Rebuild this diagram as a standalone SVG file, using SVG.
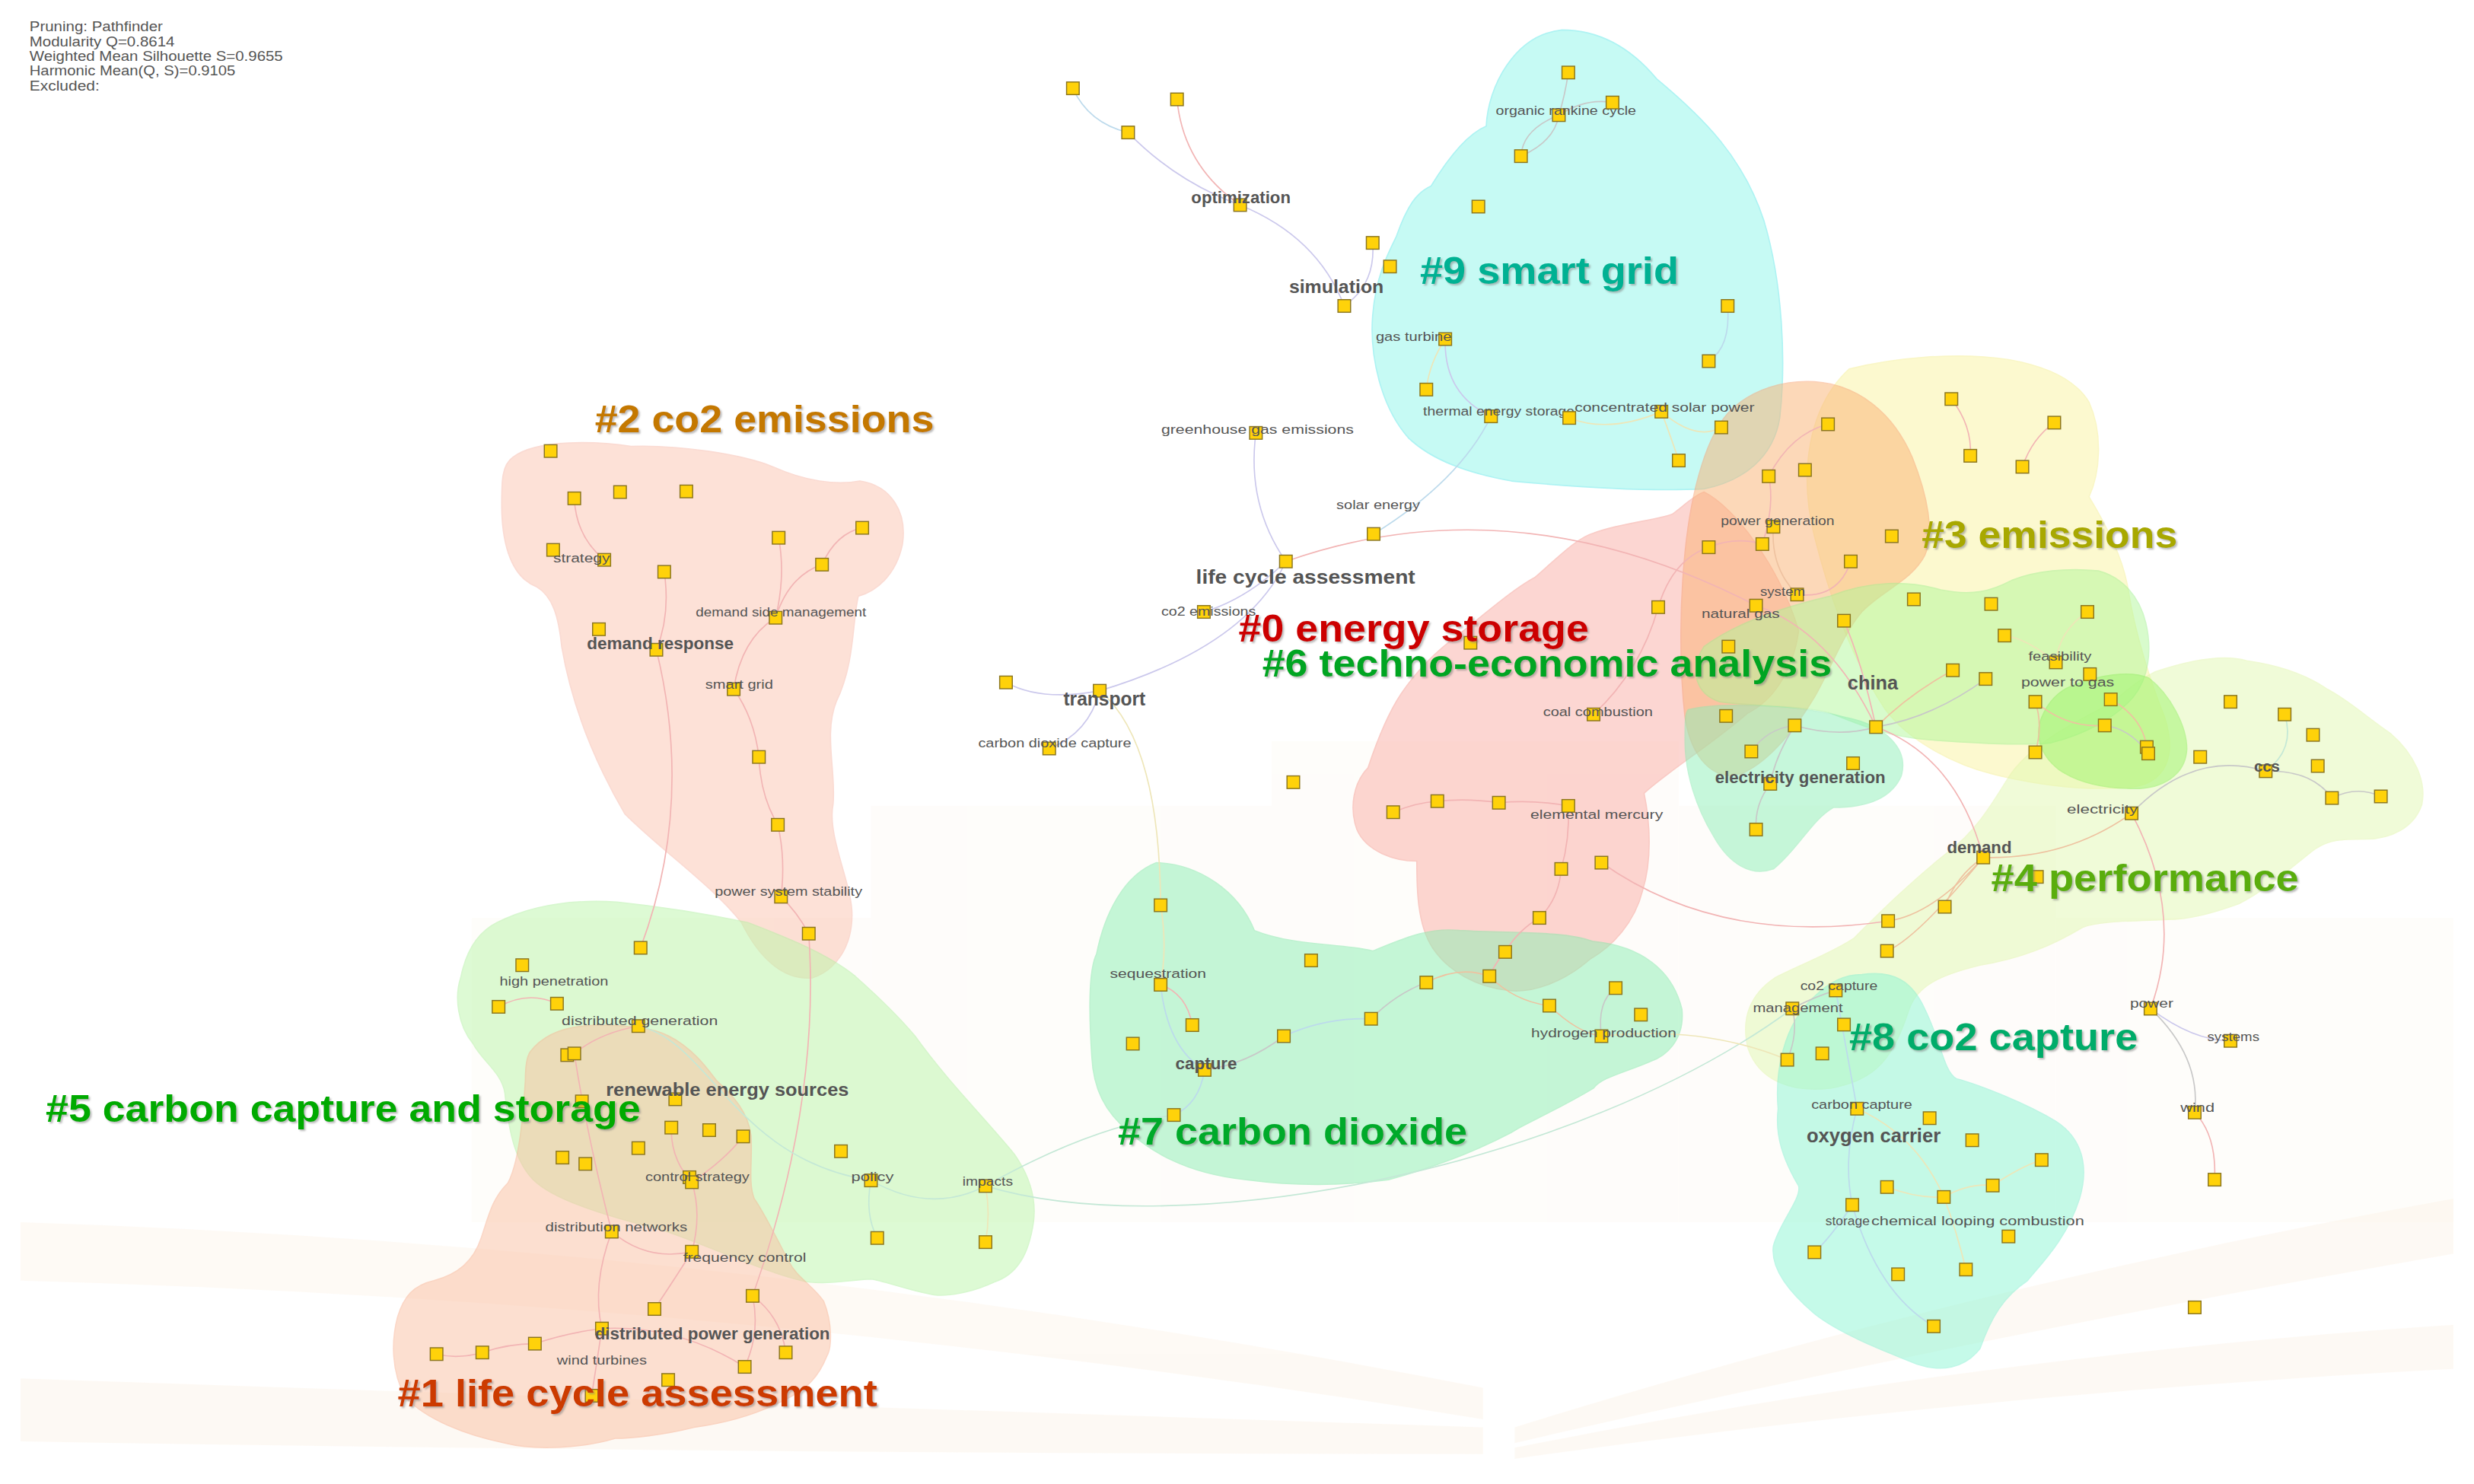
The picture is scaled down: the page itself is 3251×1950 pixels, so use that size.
<svg xmlns="http://www.w3.org/2000/svg" width="3251" height="1950" viewBox="0 0 3251 1950">
<defs>
<style>
.n{fill:#ffd20a;stroke:#8a7520;stroke-width:0.7}
.e{fill:none;stroke-width:0.8}
.ep{stroke:#f2b4b4}.eb{stroke:#bcdaec}.el{stroke:#cbc8ec}.ey{stroke:#eee6b8}.eg{stroke:#c8c8c8}.eo{stroke:#eec2a0}.et{stroke:#c4e8d6}
.lb{font-family:"Liberation Sans",Arial,sans-serif;font-size:8px;fill:#555}
.lbb{font-family:"Liberation Sans",Arial,sans-serif;font-weight:bold;fill:#555}
.cl{font-family:"Liberation Sans",Arial,sans-serif;font-weight:bold;font-size:24px;filter:url(#sh)}
.hd{font-family:"Liberation Sans",Arial,sans-serif;font-size:8.5px;fill:#555}
.h{stroke-width:0.8;opacity:0.5}
</style>
<rect id="sq" class="n" x="-4" y="-4" width="8" height="8"/>
<filter id="sh" x="-5%" y="-30%" width="115%" height="170%">
<feDropShadow dx="1" dy="1" stdDeviation="0.6" flood-color="#777" flood-opacity="0.5"/>
</filter>
</defs>
<rect width="3251" height="1950" fill="#ffffff"/>
<g transform="scale(2.0733,2.0723)">
<g id="background">
<g fill="#fbeedd" opacity="0.14">
<rect x="299" y="582" width="253" height="193"/>
<rect x="552" y="511" width="254" height="264"/>
<rect x="806" y="470" width="258" height="305"/>
<rect x="1064" y="511" width="239" height="264"/>
<rect x="1303" y="582" width="252" height="193"/>
</g>
<g fill="#fbeedd" opacity="0.3">
<path d="M13,775 Q480,790 940,880 L940,900 Q480,825 13,812 Z"/>
<path d="M13,874 Q480,890 940,905 L940,922 Q480,922 13,914 Z"/>
<path d="M960,905 Q1250,815 1555,760 L1555,795 Q1250,848 960,915 Z"/>
<path d="M960,918 Q1250,860 1555,840 L1555,868 Q1250,884 960,925 Z"/>
</g>
</g>
<g id="hulls">
<path id="h9" class="h" fill="#8ff7ea" stroke="#5fe8e8" d="M990,19 C1015,19 1035,32 1050,50 C1080,75 1105,100 1118,140 C1130,180 1132,230 1128,265 C1124,290 1105,305 1080,310 C1040,312 990,308 958,305 C930,300 908,292 893,278 C875,258 868,225 870,200 C872,175 880,160 885,150 C892,130 898,122 907,118 C918,100 930,85 942,80 C943,55 960,22 990,19 Z"/>
<path id="h2" class="h" fill="#fcc4b0" stroke="#f7b8a8" opacity="0.45" d="M325,290 C340,278 380,280 400,283 C430,282 470,288 490,296 C510,305 530,308 545,305 C565,308 575,325 572,345 C568,365 555,375 544,378 C540,395 542,420 530,445 C522,465 530,490 528,510 C524,530 540,560 540,580 C540,600 530,615 515,620 C495,622 480,605 470,585 C450,560 420,540 396,516 C375,480 362,445 356,410 C354,390 350,378 340,372 C322,365 318,340 318,320 C318,305 318,295 325,290 Z"/>
<path id="h3" class="h" fill="#fbf5a0" stroke="#f5ef90" d="M1172,234 C1200,227 1240,223 1273,228 C1296,232 1315,240 1324,255 C1333,275 1331,300 1324,315 C1336,335 1346,355 1349,375 C1353,400 1362,430 1372,455 C1380,480 1372,496 1352,499 C1322,502 1290,497 1268,492 C1240,486 1210,470 1195,450 C1175,420 1160,380 1150,340 C1140,300 1146,258 1172,234 Z"/>
<path id="h4" class="h" fill="#e2f9b2" stroke="#e0f5a8" d="M1366,426 C1390,418 1410,415 1424,419 C1445,422 1462,428 1475,437 C1490,445 1500,455 1515,465 C1530,478 1538,495 1535,510 C1530,525 1515,532 1500,532 C1485,532 1475,532 1465,540 C1450,552 1435,565 1419,573 C1400,580 1385,583 1374,583 C1350,584 1330,584 1320,588 C1300,600 1280,608 1255,612 C1230,618 1215,625 1210,640 C1200,670 1190,685 1160,690 C1135,693 1115,685 1108,665 C1103,645 1110,630 1125,620 C1140,612 1160,605 1175,595 C1190,580 1210,560 1235,540 C1255,525 1265,505 1275,490 C1290,470 1320,455 1340,445 C1350,435 1358,430 1366,426 Z"/>
<path id="h0" class="h" fill="#fbaea6" stroke="#f59a90" opacity="0.45" d="M1080,312 C1100,322 1128,360 1140,400 C1136,428 1122,445 1108,452 C1082,474 1056,490 1042,503 C1046,522 1047,546 1041,565 C1036,585 1022,600 1008,608 C992,622 972,630 956,628 C936,626 918,616 908,601 C898,586 898,562 898,546 C884,546 866,540 860,526 C855,512 858,496 867,487 C874,466 880,452 888,440 C900,422 914,410 925,402 C945,386 960,373 973,366 C990,351 1000,341 1010,338 C1030,331 1050,330 1060,326 C1068,320 1074,314 1080,312 Z"/>
<path id="hor" class="h" fill="#fbb274" stroke="#f8a070" opacity="0.45" d="M1097,260 C1112,246 1132,241 1150,242 C1178,244 1200,262 1212,290 C1222,315 1226,338 1220,352 C1212,368 1192,375 1180,388 C1168,402 1160,425 1150,442 C1138,462 1122,482 1105,490 C1086,497 1072,480 1068,455 C1064,420 1065,380 1068,350 C1072,310 1082,275 1097,260 Z"/>
<path id="h6" class="h" fill="#b2f89a" stroke="#a0f090" opacity="0.45" d="M1080,410 C1100,395 1130,385 1160,378 C1185,368 1210,368 1230,374 C1250,378 1262,375 1275,368 C1290,362 1310,360 1330,362 C1345,366 1356,378 1360,395 C1364,412 1362,430 1352,442 C1340,456 1320,466 1300,471 C1280,473 1250,471 1222,469 C1195,467 1175,458 1160,452 C1140,447 1110,448 1090,445 C1075,440 1070,425 1080,410 Z"/>
<path id="hB" class="h" fill="#9ef56c" stroke="#90ee60" opacity="0.45" d="M1313,435 C1330,428 1350,425 1362,430 C1375,440 1386,460 1386,475 C1385,492 1370,500 1353,500 C1335,500 1318,497 1305,488 C1292,478 1290,465 1294,455 C1298,445 1305,438 1313,435 Z"/>
<path id="hC" class="h" fill="#8ef0b8" stroke="#88eab0" d="M1070,450 C1090,445 1140,447 1170,455 C1195,460 1210,475 1205,492 C1198,508 1180,512 1162,512 C1148,520 1140,538 1124,551 C1110,556 1096,548 1086,530 C1075,512 1068,490 1068,470 C1068,458 1068,452 1070,450 Z"/>
<path id="h7" class="h" fill="#8cf0b4" stroke="#80e8a8" d="M733,547 C760,548 785,565 795,590 C820,600 850,598 870,603 C890,595 905,588 925,590 C960,592 990,590 1010,597 C1040,600 1060,615 1066,640 C1068,660 1055,670 1046,673 C1030,680 1015,683 1010,690 C985,705 965,713 958,718 C935,730 910,740 880,748 C850,752 820,752 790,748 C760,745 735,735 716,718 C700,705 693,690 692,670 C690,640 690,615 695,605 C700,580 712,555 733,547 Z"/>
<path id="h8" class="h" fill="#8cf7d4" stroke="#80f0d0" d="M1180,618 C1200,615 1212,622 1220,640 C1230,660 1232,680 1240,684 C1255,688 1285,700 1303,711 C1320,722 1324,740 1318,760 C1310,785 1295,800 1285,812 C1270,822 1262,835 1255,855 C1245,868 1230,870 1215,865 C1190,855 1165,845 1150,833 C1135,820 1122,805 1124,790 C1128,775 1142,760 1140,752 C1130,735 1125,720 1127,703 C1125,680 1130,650 1150,632 C1160,622 1170,618 1180,618 Z"/>
<path id="h5" class="h" fill="#bcf7aa" stroke="#b0f0a0" d="M315,585 C335,575 360,570 391,572 C420,575 450,580 474,585 C500,595 525,605 542,619 C560,635 570,645 580,657 C600,685 625,710 643,732 C652,745 657,760 655,775 C652,795 645,808 630,813 C615,820 600,822 592,821 C575,818 560,812 552,811 C535,812 520,815 508,812 C480,805 450,790 420,780 C380,770 350,760 338,748 C325,735 322,712 320,693 C318,680 305,672 300,662 C290,650 288,632 292,620 C296,600 305,590 315,585 Z"/>
<path id="h1" class="h" fill="#fbc0a2" stroke="#f8b090" opacity="0.45" d="M336,667 C345,655 360,650 380,650 C400,650 415,652 424,657 C440,665 450,680 454,685 C465,695 474,705 476,720 C477,735 474,750 478,760 C485,770 492,785 500,800 C505,810 515,815 522,825 C528,840 527,855 524,860 C518,875 510,880 504,884 C480,898 455,903 440,905 C420,910 400,912 390,912 C370,918 340,920 320,915 C295,910 270,900 257,886 C248,870 248,850 252,835 C256,822 262,815 275,812 C290,808 300,800 305,785 C310,770 312,760 322,750 C330,735 332,700 333,685 C333,675 334,670 336,667 Z"/>
</g>
<g id="connectors">
<path class="e eb" d="M680,56 Q690,78 715,84"/>
<path class="e el" d="M715,84 Q745,115 786,130"/>
<path class="e ep" d="M746,63 Q750,105 786,130"/>
<path class="e el" d="M786,130 Q835,150 852,194"/>
<path class="e el" d="M870,154 Q872,180 852,194"/>
<path class="e eg" d="M988,73 Q1005,62 1022,65"/>
<path class="e eg" d="M988,73 Q985,90 964,99"/>
<path class="e eg" d="M988,73 Q965,82 964,99"/>
<path class="e eg" d="M994,46 Q992,60 988,73"/>
<path class="e ey" d="M916,215 Q906,230 904,247"/>
<path class="e el" d="M916,215 Q915,250 945,264"/>
<path class="e eb" d="M945,264 Q925,305 870.6,338.6"/>
<path class="e ey" d="M994.6,265 Q1020,275 1053,261"/>
<path class="e ey" d="M1053,261 Q1075,280 1091,271"/>
<path class="e ey" d="M1053,261 Q1060,280 1064,292"/>
<path class="e eb" d="M1095,194 Q1097,220 1083,229"/>
<path class="e el" d="M796,274.5 Q790,320 815,356"/>
<path class="e ep" d="M815,356 Q960,305 1113,384"/>
<path class="e el" d="M815,356 Q790,410 697,438"/>
<path class="e el" d="M763,388 Q790,380 815,356"/>
<path class="e el" d="M637.6,432.7 Q660,445 697,438"/>
<path class="e el" d="M697,438 Q690,465 665,474.6"/>
<path class="e ey" d="M697,438 Q735,470 735.6,574"/>
<path class="e ep" d="M546.5,334.7 Q530,338 521,358"/>
<path class="e ep" d="M521,358 Q500,365 491.6,391.7"/>
<path class="e ep" d="M491.6,391.7 Q470,405 465,437"/>
<path class="e ep" d="M465,437 Q478,455 481,480"/>
<path class="e ep" d="M481,480 Q482,505 493,523"/>
<path class="e ep" d="M493,523 Q498,545 495,568.6"/>
<path class="e ep" d="M495,568.6 Q505,578 512.6,592"/>
<path class="e ep" d="M512.6,592 Q520,700 477,821.7"/>
<path class="e ep" d="M493.5,341 Q498,365 491.6,391.7"/>
<path class="e ep" d="M364,316 Q365,340 383,355"/>
<path class="e ep" d="M421,362.6 Q425,390 416,412"/>
<path class="e ep" d="M416,412 Q440,510 406,601"/>
<path class="e ep" d="M316,638.4 Q335,628 353,636.4"/>
<path class="e ep" d="M404.6,650.6 Q380,655 364,668"/>
<path class="e et" d="M404.6,650.6 C450,660 465,735 552,748.5"/>
<path class="e et" d="M552,748.5 Q590,770 624.6,752"/>
<path class="e et" d="M552,748.5 Q548,770 556,785"/>
<path class="e ey" d="M624.6,752 Q628,770 624.6,787.6"/>
<path class="e et" d="M624.6,752 C750,790 1000,740 1136,639.5"/>
<path class="e et" d="M624.6,752 Q690,715 744,707"/>
<path class="e ep" d="M438.5,749.6 Q460,735 471,720.6"/>
<path class="e ep" d="M438.5,749.6 Q425,735 425.5,715"/>
<path class="e ep" d="M438.5,749.6 Q445,770 438.5,793.7"/>
<path class="e ep" d="M438.5,793.7 Q425,815 414.8,830"/>
<path class="e ep" d="M387.7,781 Q410,800 438.5,793.7"/>
<path class="e ep" d="M387.7,781 Q375,815 381.5,842.4"/>
<path class="e ep" d="M477,821.7 Q482,845 472,866.7"/>
<path class="e ep" d="M477,821.7 Q495,835 498,857.6"/>
<path class="e ep" d="M381.5,842.4 Q360,845 339,852"/>
<path class="e ep" d="M339,852 Q322,852 305.7,857.6"/>
<path class="e ep" d="M305.7,857.6 Q290,862 276.7,858.6"/>
<path class="e ep" d="M381.5,842.4 Q378,865 375,885"/>
<path class="e ep" d="M381.5,842.4 Q430,840 472,866.7"/>
<path class="e ep" d="M364,668 Q372,720 387.7,781"/>
<path class="e ey" d="M735.6,574 Q740,600 735.6,624.4"/>
<path class="e ep" d="M735.6,624.4 Q752,630 755.7,650"/>
<path class="e eb" d="M735.6,624.4 Q740,665 763.5,678.4"/>
<path class="e eb" d="M763.5,678.4 Q760,700 744,707"/>
<path class="e eg" d="M763.5,678.4 Q790,675 813.7,657"/>
<path class="e eb" d="M813.7,657 Q840,645 869,646"/>
<path class="e eg" d="M869,646 Q885,630 904,623"/>
<path class="e eo" d="M904,623 Q925,612 944,619"/>
<path class="e eo" d="M944,619 Q960,635 982,637.7"/>
<path class="e eo" d="M982,637.7 Q1000,655 1015,657"/>
<path class="e eg" d="M1015,657 Q1012,635 1024,626.5"/>
<path class="e ep" d="M954,603.6 Q948,610 944,619"/>
<path class="e ey" d="M1015,657 Q1080,650 1132.8,672"/>
<path class="e eg" d="M1163.5,628 Q1150,632 1136,639.5"/>
<path class="e eg" d="M1136,639.5 Q1140,655 1132.8,672"/>
<path class="e eb" d="M1177,703 Q1168,735 1174,764"/>
<path class="e ey" d="M1177,703 Q1215,720 1232,759"/>
<path class="e ey" d="M1232,759 Q1248,750 1263,751.7"/>
<path class="e ey" d="M1263,751.7 Q1280,740 1294,735.5"/>
<path class="e ey" d="M1196,752.7 Q1215,760 1232,759"/>
<path class="e eb" d="M1174,764 Q1190,820 1225.6,841"/>
<path class="e eb" d="M1174,764 Q1160,785 1150,794"/>
<path class="e ey" d="M1232,759 Q1240,780 1246,805"/>
<path class="e eb" d="M1163.5,628 Q1170,665 1177,703"/>
<path class="e eo" d="M1257,543.7 Q1310,545 1351,515.7"/>
<path class="e eo" d="M1257,543.7 Q1240,555 1232.6,575"/>
<path class="e eo" d="M1257,543.7 Q1225,580 1196.7,584"/>
<path class="e ep" d="M1015,547 Q1090,600 1196.7,584"/>
<path class="e eo" d="M1257,543.7 Q1215,595 1196,603"/>
<path class="e ep" d="M1189,461 Q1240,480 1257,543.7"/>
<path class="e eg" d="M1351,515.7 Q1390,475 1436,489"/>
<path class="e eg" d="M1436,489 Q1465,488 1478,506"/>
<path class="e eg" d="M1478,506 Q1494,498 1509,505"/>
<path class="e et" d="M1436,489 Q1455,475 1448,453"/>
<path class="e ep" d="M1351,515.7 Q1385,580 1363,639.6"/>
<path class="e el" d="M1363,639.6 Q1390,660 1413.7,660"/>
<path class="e eg" d="M1363,639.6 Q1395,670 1391,705.4"/>
<path class="e ep" d="M1391,705.4 Q1405,720 1403.6,748"/>
<path class="e eo" d="M1189,461 Q1210,440 1237.7,425"/>
<path class="e eg" d="M1189,461 Q1225,455 1258.5,430.5"/>
<path class="e ep" d="M1189,461 Q1180,420 1168.7,393.6"/>
<path class="e eo" d="M1290,445 Q1295,460 1290,477"/>
<path class="e eo" d="M1290,445 Q1310,462 1334,460"/>
<path class="e eo" d="M1337.8,443.5 Q1358,455 1360.6,473.7"/>
<path class="e eg" d="M1334,460 Q1350,462 1361.6,477.8"/>
<path class="e ey" d="M1323,388 Q1305,400 1303,420"/>
<path class="e ey" d="M1303,420 Q1285,405 1270.5,403"/>
<path class="e eg" d="M1137.5,460 Q1165,468 1189,461"/>
<path class="e eg" d="M1137.5,460 Q1120,462 1110,476.5"/>
<path class="e eg" d="M1137.5,460 Q1125,480 1122,497"/>
<path class="e eg" d="M1122,497 Q1112,510 1113,526"/>
<path class="e ep" d="M1010,453 Q1040,425 1051,385"/>
<path class="e ep" d="M1051,385 Q1060,355 1083,347"/>
<path class="e ep" d="M1083,347 Q1100,340 1117,345"/>
<path class="e ep" d="M1117,345 Q1125,320 1121,302"/>
<path class="e ep" d="M1121,302 Q1135,275 1158.6,269"/>
<path class="e eo" d="M1124,334 Q1122,360 1139,377"/>
<path class="e ep" d="M1139,377 Q1165,380 1173,356"/>
<path class="e ep" d="M1113,384 Q1160,400 1189,461"/>
<path class="e ep" d="M883,515 Q897,509 911,508"/>
<path class="e ep" d="M911,508 Q930,506 950,509"/>
<path class="e ep" d="M950,509 Q972,507 994,511"/>
<path class="e ep" d="M994,511 Q995,532 989.5,551"/>
<path class="e ep" d="M989.5,551 Q988,570 975.7,582"/>
<path class="e ep" d="M975.7,582 Q962,590 954,603.6"/>
<path class="e ep" d="M1236.8,253 Q1250,270 1248.8,289"/>
<path class="e ep" d="M1302,268 Q1288,278 1281.8,296"/>
</g>
<g id="nodes">
<g id="n-a1"><use href="#sq" x="680" y="56"/></g>
<g id="n-a2"><use href="#sq" x="715" y="84"/></g>
<g id="n-a3"><use href="#sq" x="746" y="63"/></g>
<g id="n-optimization"><use href="#sq" x="786" y="130"/><text class="lbb" x="755" y="129" font-size="10.5" textLength="63" lengthAdjust="spacingAndGlyphs">optimization</text></g>
<g id="n-a4"><use href="#sq" x="870" y="154"/></g>
<g id="n-a5"><use href="#sq" x="881" y="169"/></g>
<g id="n-simulation"><use href="#sq" x="852" y="194"/><text class="lbb" x="817" y="186" font-size="11.5" textLength="60" lengthAdjust="spacingAndGlyphs">simulation</text></g>
<g id="n-s1"><use href="#sq" x="994" y="46"/></g>
<g id="n-organic-rankine-cycle"><use href="#sq" x="988" y="73"/><text class="lb" x="948" y="73" textLength="89" lengthAdjust="spacingAndGlyphs">organic rankine cycle</text></g>
<g id="n-s2"><use href="#sq" x="1022" y="65"/></g>
<g id="n-s3"><use href="#sq" x="964" y="99"/></g>
<g id="n-s4"><use href="#sq" x="937" y="131"/></g>
<g id="n-s5"><use href="#sq" x="1095" y="194"/></g>
<g id="n-s6"><use href="#sq" x="1083" y="229"/></g>
<g id="n-gas-turbine"><use href="#sq" x="916" y="215"/><text class="lb" x="872" y="216" textLength="48" lengthAdjust="spacingAndGlyphs">gas turbine</text></g>
<g id="n-s7"><use href="#sq" x="904" y="247"/></g>
<g id="n-thermal-energy-storage"><use href="#sq" x="945" y="264"/><text class="lb" x="902" y="263.5" textLength="96" lengthAdjust="spacingAndGlyphs">thermal energy storage</text></g>
<g id="n-s8"><use href="#sq" x="994.6" y="265"/></g>
<g id="n-concentrated-solar-power"><use href="#sq" x="1053" y="261"/><text class="lb" x="998" y="261" textLength="114" lengthAdjust="spacingAndGlyphs">concentrated solar power</text></g>
<g id="n-s9"><use href="#sq" x="1091" y="271"/></g>
<g id="n-s10"><use href="#sq" x="1064" y="292"/></g>
<g id="n-greenhouse-gas-emissions"><use href="#sq" x="796" y="274.5"/><text class="lb" x="736" y="275" textLength="122" lengthAdjust="spacingAndGlyphs">greenhouse gas emissions</text></g>
<g id="n-solar-energy"><use href="#sq" x="870.6" y="338.6"/><text class="lb" x="847" y="323" textLength="53" lengthAdjust="spacingAndGlyphs">solar energy</text></g>
<g id="n-life-cycle-assessment"><use href="#sq" x="815" y="356"/><text class="lbb" x="758" y="370" font-size="12" textLength="139" lengthAdjust="spacingAndGlyphs">life cycle assessment</text></g>
<g id="n-co2-emissions"><use href="#sq" x="763" y="388"/><text class="lb" x="736" y="390.5" textLength="60" lengthAdjust="spacingAndGlyphs">co2 emissions</text></g>
<g id="n-transport"><use href="#sq" x="697" y="438"/><text class="lbb" x="674" y="447.5" font-size="12" textLength="52" lengthAdjust="spacingAndGlyphs">transport</text></g>
<g id="n-t1"><use href="#sq" x="637.6" y="432.7"/></g>
<g id="n-carbon-dioxide-capture"><use href="#sq" x="665" y="474.6"/><text class="lb" x="620" y="474" textLength="97" lengthAdjust="spacingAndGlyphs">carbon dioxide capture</text></g>
<g id="n-t2"><use href="#sq" x="819.7" y="496"/></g>
<g id="n-c2-1"><use href="#sq" x="349" y="286"/></g>
<g id="n-c2-2"><use href="#sq" x="364" y="316"/></g>
<g id="n-c2-3"><use href="#sq" x="393" y="312"/></g>
<g id="n-c2-4"><use href="#sq" x="435" y="311.6"/></g>
<g id="n-c2-5"><use href="#sq" x="493.5" y="341"/></g>
<g id="n-c2-6"><use href="#sq" x="546.5" y="334.7"/></g>
<g id="n-c2-7"><use href="#sq" x="521" y="358"/></g>
<g id="n-c2-8"><use href="#sq" x="421" y="362.6"/></g>
<g id="n-c2-9"><use href="#sq" x="350.6" y="348.7"/></g>
<g id="n-strategy"><use href="#sq" x="383" y="355"/><text class="lb" x="350.6" y="356.6" textLength="36" lengthAdjust="spacingAndGlyphs">strategy</text></g>
<g id="n-c2-10"><use href="#sq" x="379.6" y="399"/></g>
<g id="n-demand-response"><use href="#sq" x="416" y="412"/><text class="lbb" x="372" y="411.5" font-size="11" textLength="93" lengthAdjust="spacingAndGlyphs">demand response</text></g>
<g id="n-demand-side-management"><use href="#sq" x="491.6" y="391.7"/><text class="lb" x="441" y="391" textLength="108" lengthAdjust="spacingAndGlyphs">demand side management</text></g>
<g id="n-smart-grid"><use href="#sq" x="465" y="437"/><text class="lb" x="447" y="436.6" textLength="43" lengthAdjust="spacingAndGlyphs">smart grid</text></g>
<g id="n-c2-11"><use href="#sq" x="481" y="480"/></g>
<g id="n-c2-12"><use href="#sq" x="493" y="523"/></g>
<g id="n-power-system-stability"><use href="#sq" x="495" y="568.6"/><text class="lb" x="453" y="568" textLength="93.5" lengthAdjust="spacingAndGlyphs">power system stability</text></g>
<g id="n-c2-13"><use href="#sq" x="512.6" y="592"/></g>
<g id="n-c0-1"><use href="#sq" x="1051" y="385"/></g>
<g id="n-c0-2"><use href="#sq" x="932" y="407.6"/></g>
<g id="n-coal-combustion"><use href="#sq" x="1010" y="453"/><text class="lb" x="978" y="454" textLength="69.6" lengthAdjust="spacingAndGlyphs">coal combustion</text></g>
<g id="n-c0-3"><use href="#sq" x="883" y="515"/></g>
<g id="n-c0-4"><use href="#sq" x="911" y="508"/></g>
<g id="n-c0-5"><use href="#sq" x="950" y="509"/></g>
<g id="n-elemental-mercury"><use href="#sq" x="994" y="511"/><text class="lb" x="970" y="519" textLength="84" lengthAdjust="spacingAndGlyphs">elemental mercury</text></g>
<g id="n-c0-6"><use href="#sq" x="989.5" y="551"/></g>
<g id="n-c0-7"><use href="#sq" x="1015" y="547"/></g>
<g id="n-c0-8"><use href="#sq" x="975.7" y="582"/></g>
<g id="n-c0-9"><use href="#sq" x="954" y="603.6"/></g>
<g id="n-c0-10"><use href="#sq" x="944" y="619"/></g>
<g id="n-c3-1"><use href="#sq" x="1158.6" y="269"/></g>
<g id="n-c3-2"><use href="#sq" x="1144" y="298"/></g>
<g id="n-c3-3"><use href="#sq" x="1121" y="302"/></g>
<g id="n-c3-4"><use href="#sq" x="1083" y="347"/></g>
<g id="n-c3-5"><use href="#sq" x="1117" y="345"/></g>
<g id="n-power-generation"><use href="#sq" x="1124" y="334"/><text class="lb" x="1090.6" y="333" textLength="72" lengthAdjust="spacingAndGlyphs">power generation</text></g>
<g id="n-c3-6"><use href="#sq" x="1173" y="356"/></g>
<g id="n-c3-7"><use href="#sq" x="1199" y="340"/></g>
<g id="n-system"><use href="#sq" x="1139" y="377"/><text class="lb" x="1115.6" y="378" textLength="28.5" lengthAdjust="spacingAndGlyphs">system</text></g>
<g id="n-natural-gas"><use href="#sq" x="1113" y="384"/><text class="lb" x="1078.5" y="392" textLength="49.5" lengthAdjust="spacingAndGlyphs">natural gas</text></g>
<g id="n-c3-8"><use href="#sq" x="1168.7" y="393.6"/></g>
<g id="n-c3-9"><use href="#sq" x="1095.5" y="410"/></g>
<g id="n-c3-10"><use href="#sq" x="1236.8" y="253"/></g>
<g id="n-c3-11"><use href="#sq" x="1302" y="268"/></g>
<g id="n-c3-12"><use href="#sq" x="1248.8" y="289"/></g>
<g id="n-c3-13"><use href="#sq" x="1281.8" y="296"/></g>
<g id="n-c6-1"><use href="#sq" x="1213" y="380"/></g>
<g id="n-c6-2"><use href="#sq" x="1262" y="383"/></g>
<g id="n-c6-3"><use href="#sq" x="1323" y="388"/></g>
<g id="n-c6-4"><use href="#sq" x="1270.5" y="403"/></g>
<g id="n-feasibility"><use href="#sq" x="1303" y="420"/><text class="lb" x="1285.6" y="419" textLength="40" lengthAdjust="spacingAndGlyphs">feasibility</text></g>
<g id="n-c6-5"><use href="#sq" x="1237.7" y="425"/></g>
<g id="n-c6-6"><use href="#sq" x="1258.5" y="430.5"/></g>
<g id="n-power-to-gas"><use href="#sq" x="1324.6" y="427.5"/><text class="lb" x="1281" y="435.5" textLength="59" lengthAdjust="spacingAndGlyphs">power to gas</text></g>
<g id="n-china"><use href="#sq" x="1189" y="461"/><text class="lbb" x="1171" y="437" font-size="12" textLength="32" lengthAdjust="spacingAndGlyphs">china</text></g>
<g id="n-c6-7"><use href="#sq" x="1290" y="445"/></g>
<g id="n-c6-8"><use href="#sq" x="1337.8" y="443.5"/></g>
<g id="n-c6-9"><use href="#sq" x="1334" y="460"/></g>
<g id="n-c6-10"><use href="#sq" x="1290" y="477"/></g>
<g id="n-c6-11"><use href="#sq" x="1360.6" y="473.7"/></g>
<g id="n-c6-12"><use href="#sq" x="1361.6" y="477.8"/></g>
<g id="n-c6-13"><use href="#sq" x="1394.5" y="480"/></g>
<g id="n-c6-14"><use href="#sq" x="1094" y="454"/></g>
<g id="n-c6-15"><use href="#sq" x="1137.5" y="460"/></g>
<g id="n-c6-16"><use href="#sq" x="1110" y="476.5"/></g>
<g id="n-c6-17"><use href="#sq" x="1174.5" y="484"/></g>
<g id="n-electricity-generation"><use href="#sq" x="1122" y="497"/><text class="lbb" x="1087" y="496.5" font-size="10.5" textLength="108" lengthAdjust="spacingAndGlyphs">electricity generation</text></g>
<g id="n-c6-18"><use href="#sq" x="1113" y="526"/></g>
<g id="n-c4-1"><use href="#sq" x="1413.7" y="445"/></g>
<g id="n-c4-2"><use href="#sq" x="1448" y="453"/></g>
<g id="n-c4-3"><use href="#sq" x="1466" y="466"/></g>
<g id="n-c4-4"><use href="#sq" x="1469" y="485.7"/></g>
<g id="n-c4-5"><use href="#sq" x="1478" y="506"/></g>
<g id="n-c4-6"><use href="#sq" x="1509" y="505"/></g>
<g id="n-ccs"><use href="#sq" x="1436" y="489"/><text class="lbb" x="1428.6" y="489.5" font-size="10" textLength="16.4" lengthAdjust="spacingAndGlyphs">ccs</text></g>
<g id="n-electricity"><use href="#sq" x="1351" y="515.7"/><text class="lb" x="1310" y="515.7" textLength="45" lengthAdjust="spacingAndGlyphs">electricity</text></g>
<g id="n-demand"><use href="#sq" x="1257" y="543.7"/><text class="lbb" x="1234" y="541" font-size="10.5" textLength="41" lengthAdjust="spacingAndGlyphs">demand</text></g>
<g id="n-c4-7"><use href="#sq" x="1291" y="556"/></g>
<g id="n-c4-8"><use href="#sq" x="1232.6" y="575"/></g>
<g id="n-c4-9"><use href="#sq" x="1196.7" y="584"/></g>
<g id="n-c4-10"><use href="#sq" x="1196" y="603"/></g>
<g id="n-power"><use href="#sq" x="1363" y="639.6"/><text class="lb" x="1350" y="639" textLength="27.5" lengthAdjust="spacingAndGlyphs">power</text></g>
<g id="n-systems"><use href="#sq" x="1413.7" y="660"/><text class="lb" x="1399" y="660" textLength="33" lengthAdjust="spacingAndGlyphs">systems</text></g>
<g id="n-wind"><use href="#sq" x="1391" y="705.4"/><text class="lb" x="1382" y="705" textLength="21.6" lengthAdjust="spacingAndGlyphs">wind</text></g>
<g id="n-c4-11"><use href="#sq" x="1403.6" y="748"/></g>
<g id="n-c4-12"><use href="#sq" x="1391" y="829"/></g>
<g id="n-co2-capture"><use href="#sq" x="1163.5" y="628"/><text class="lb" x="1141" y="628" textLength="49" lengthAdjust="spacingAndGlyphs">co2 capture</text></g>
<g id="n-management"><use href="#sq" x="1136" y="639.5"/><text class="lb" x="1111" y="642" textLength="57" lengthAdjust="spacingAndGlyphs">management</text></g>
<g id="n-c8-1"><use href="#sq" x="1168.7" y="649.7"/></g>
<g id="n-c8-2"><use href="#sq" x="1132.8" y="672"/></g>
<g id="n-c8-3"><use href="#sq" x="1155" y="668"/></g>
<g id="n-carbon-capture"><use href="#sq" x="1177" y="703"/><text class="lb" x="1148" y="703" textLength="64" lengthAdjust="spacingAndGlyphs">carbon capture</text></g>
<g id="n-c8-4"><use href="#sq" x="1223" y="709"/></g>
<g id="n-oxygen-carrier"><text class="lbb" x="1145" y="724.5" font-size="12" textLength="85" lengthAdjust="spacingAndGlyphs">oxygen carrier</text></g>
<g id="n-c8-5"><use href="#sq" x="1250" y="723"/></g>
<g id="n-c8-6"><use href="#sq" x="1294" y="735.5"/></g>
<g id="n-c8-7"><use href="#sq" x="1196" y="752.7"/></g>
<g id="n-c8-8"><use href="#sq" x="1232" y="759"/></g>
<g id="n-chemical-looping-combustion"><use href="#sq" x="1263" y="751.7"/><text class="lb" x="1186" y="777" textLength="135" lengthAdjust="spacingAndGlyphs">chemical looping combustion</text></g>
<g id="n-storage"><use href="#sq" x="1174" y="764"/><text class="lb" x="1157" y="777" textLength="28" lengthAdjust="spacingAndGlyphs">storage</text></g>
<g id="n-c8-9"><use href="#sq" x="1273" y="784"/></g>
<g id="n-c8-10"><use href="#sq" x="1203" y="808"/></g>
<g id="n-c8-11"><use href="#sq" x="1246" y="805"/></g>
<g id="n-c8-12"><use href="#sq" x="1225.6" y="841"/></g>
<g id="n-c8-13"><use href="#sq" x="1150" y="794"/></g>
<g id="n-c7-1"><use href="#sq" x="735.6" y="574"/></g>
<g id="n-sequestration"><use href="#sq" x="735.6" y="624.4"/><text class="lb" x="703.5" y="620" textLength="61" lengthAdjust="spacingAndGlyphs">sequestration</text></g>
<g id="n-c7-2"><use href="#sq" x="755.7" y="650"/></g>
<g id="n-c7-3"><use href="#sq" x="718" y="661.8"/></g>
<g id="n-capture"><use href="#sq" x="763.5" y="678.4"/><text class="lbb" x="745" y="678" font-size="11" textLength="39" lengthAdjust="spacingAndGlyphs">capture</text></g>
<g id="n-c7-4"><use href="#sq" x="744" y="707"/></g>
<g id="n-c7-5"><use href="#sq" x="831" y="609"/></g>
<g id="n-c7-6"><use href="#sq" x="869" y="646"/></g>
<g id="n-c7-7"><use href="#sq" x="813.7" y="657"/></g>
<g id="n-c7-8"><use href="#sq" x="904" y="623"/></g>
<g id="n-c7-9"><use href="#sq" x="1024" y="626.5"/></g>
<g id="n-c7-10"><use href="#sq" x="982" y="637.7"/></g>
<g id="n-c7-11"><use href="#sq" x="1040" y="643.4"/></g>
<g id="n-hydrogen-production"><use href="#sq" x="1015" y="657"/><text class="lb" x="970.5" y="657.5" textLength="92" lengthAdjust="spacingAndGlyphs">hydrogen production</text></g>
<g id="n-c5-1"><use href="#sq" x="406" y="601"/></g>
<g id="n-high-penetration"><use href="#sq" x="331" y="612"/><text class="lb" x="316.6" y="625" textLength="69" lengthAdjust="spacingAndGlyphs">high penetration</text></g>
<g id="n-c5-2"><use href="#sq" x="316" y="638.4"/></g>
<g id="n-c5-3"><use href="#sq" x="353" y="636.4"/></g>
<g id="n-distributed-generation"><use href="#sq" x="404.6" y="650.6"/><text class="lb" x="356" y="650" textLength="99" lengthAdjust="spacingAndGlyphs">distributed generation</text></g>
<g id="n-c5-4"><use href="#sq" x="359.5" y="669"/></g>
<g id="n-c5-5"><use href="#sq" x="364" y="668"/></g>
<g id="n-c5-6"><use href="#sq" x="368.8" y="698.4"/></g>
<g id="n-renewable-energy-sources"><use href="#sq" x="428" y="697"/><text class="lbb" x="384" y="695" font-size="11.5" textLength="154" lengthAdjust="spacingAndGlyphs">renewable energy sources</text></g>
<g id="n-c5-7"><use href="#sq" x="425.5" y="715"/></g>
<g id="n-c5-8"><use href="#sq" x="449.5" y="716.6"/></g>
<g id="n-c5-9"><use href="#sq" x="471" y="720.6"/></g>
<g id="n-c5-10"><use href="#sq" x="404.6" y="728"/></g>
<g id="n-c5-11"><use href="#sq" x="356.5" y="734"/></g>
<g id="n-c5-12"><use href="#sq" x="371" y="738"/></g>
<g id="n-c5-13"><use href="#sq" x="533" y="730"/></g>
<g id="n-control-strategy"><use href="#sq" x="437" y="746.5"/><use href="#sq" x="438.5" y="749.6"/><text class="lb" x="409" y="748.7" textLength="66" lengthAdjust="spacingAndGlyphs">control strategy</text></g>
<g id="n-policy"><use href="#sq" x="552" y="748.5"/><text class="lb" x="539.5" y="748.7" textLength="27" lengthAdjust="spacingAndGlyphs">policy</text></g>
<g id="n-impacts"><use href="#sq" x="624.6" y="752"/><text class="lb" x="610" y="752" textLength="32" lengthAdjust="spacingAndGlyphs">impacts</text></g>
<g id="n-c5-14"><use href="#sq" x="556" y="785"/></g>
<g id="n-c5-15"><use href="#sq" x="624.6" y="787.6"/></g>
<g id="n-distribution-networks"><use href="#sq" x="387.7" y="781"/><text class="lb" x="345.6" y="781" textLength="90" lengthAdjust="spacingAndGlyphs">distribution networks</text></g>
<g id="n-frequency-control"><use href="#sq" x="438.5" y="793.7"/><text class="lb" x="433" y="800" textLength="78" lengthAdjust="spacingAndGlyphs">frequency control</text></g>
<g id="n-c1-1"><use href="#sq" x="477" y="821.7"/></g>
<g id="n-c1-2"><use href="#sq" x="414.8" y="830"/></g>
<g id="n-c1-3"><use href="#sq" x="498" y="857.6"/></g>
<g id="n-c1-4"><use href="#sq" x="472" y="866.7"/></g>
<g id="n-c1-5"><use href="#sq" x="423.5" y="875"/></g>
<g id="n-c1-6"><use href="#sq" x="276.7" y="858.6"/></g>
<g id="n-c1-7"><use href="#sq" x="305.7" y="857.6"/></g>
<g id="n-c1-8"><use href="#sq" x="339" y="852"/></g>
<g id="n-distributed-power-generation"><use href="#sq" x="381.5" y="842.4"/><text class="lbb" x="377" y="849.5" font-size="10.5" textLength="149" lengthAdjust="spacingAndGlyphs">distributed power generation</text></g>
<g id="n-wind-turbines"><use href="#sq" x="375" y="885"/><text class="lb" x="353" y="865" textLength="57" lengthAdjust="spacingAndGlyphs">wind turbines</text></g>
</g>
<g id="cluster-labels">
<text class="cl" x="377" y="274" fill="#c47800" textLength="215" lengthAdjust="spacingAndGlyphs">#2 co2 emissions</text>
<text class="cl" x="900" y="180" fill="#00b193" textLength="164" lengthAdjust="spacingAndGlyphs">#9 smart grid</text>
<text class="cl" x="1218" y="347.5" fill="#a8a800" textLength="162" lengthAdjust="spacingAndGlyphs">#3 emissions</text>
<text class="cl" x="785" y="407" fill="#cc0000" textLength="222" lengthAdjust="spacingAndGlyphs">#0 energy storage</text>
<text class="cl" x="800" y="429" fill="#00a521" textLength="361" lengthAdjust="spacingAndGlyphs">#6 techno-economic analysis</text>
<text class="cl" x="1262" y="565" fill="#5aad0f" textLength="195" lengthAdjust="spacingAndGlyphs">#4 performance</text>
<text class="cl" x="1172" y="666" fill="#00ac6a" textLength="183" lengthAdjust="spacingAndGlyphs">#8 co2 capture</text>
<text class="cl" x="708.5" y="726" fill="#00aa2a" textLength="221.5" lengthAdjust="spacingAndGlyphs">#7 carbon dioxide</text>
<text class="cl" x="29" y="711.5" fill="#00aa00" textLength="377" lengthAdjust="spacingAndGlyphs">#5 carbon capture and storage</text>
<text class="cl" x="252" y="892" fill="#cc3a00" textLength="304" lengthAdjust="spacingAndGlyphs">#1 life cycle assessment</text>
</g>
<g id="header">
<text class="hd" x="18.7" y="20" textLength="84.5" lengthAdjust="spacingAndGlyphs">Pruning: Pathfinder</text>
<text class="hd" x="18.7" y="29.3" textLength="92" lengthAdjust="spacingAndGlyphs">Modularity Q=0.8614</text>
<text class="hd" x="18.7" y="38.6" textLength="160.6" lengthAdjust="spacingAndGlyphs">Weighted Mean Silhouette S=0.9655</text>
<text class="hd" x="18.7" y="47.9" textLength="130.5" lengthAdjust="spacingAndGlyphs">Harmonic Mean(Q, S)=0.9105</text>
<text class="hd" x="18.7" y="57.2" textLength="44.4" lengthAdjust="spacingAndGlyphs">Excluded:</text>
</g>
</g>
</svg>
